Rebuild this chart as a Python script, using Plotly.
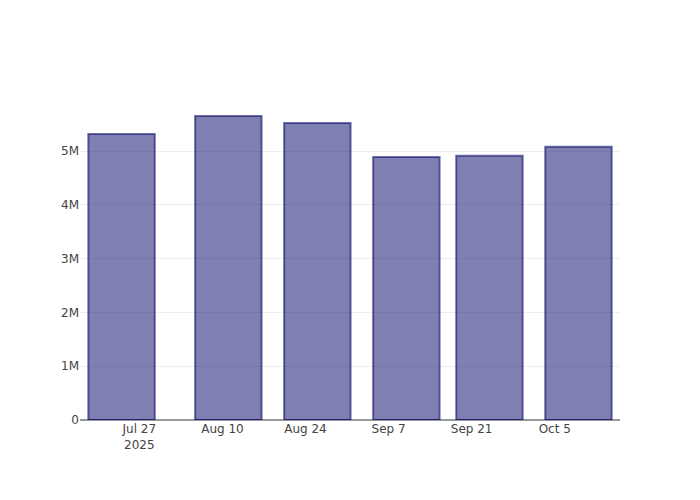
import plotly.graph_objects as go

dates = ["2025-07-24", "2025-08-11", "2025-08-26", "2025-09-10", "2025-09-24", "2025-10-09"]
values = [5.32e6, 5.655e6, 5.525e6, 4.89e6, 4.915e6, 5.085e6]

fig = go.Figure(go.Bar(
    x=dates, y=values,
    marker=dict(color="rgba(0,0,100,0.5)", line=dict(color="rgba(0,0,100,0.55)", width=2)),
))

fig.update_layout(
    width=700, height=500,
    template="none",
    font=dict(family="DejaVu Sans", size=12, color="#444"),
    margin=dict(l=72, r=88, t=92, b=88),
    plot_bgcolor="white", paper_bgcolor="white",
    showlegend=False,
    xaxis=dict(type="date", range=["2025-07-17", "2025-10-16"], showgrid=False,
               showline=False, zeroline=False,
               dtick=14 * 24 * 3600 * 1000, tick0="2025-07-27", ticks=""),
    yaxis=dict(showgrid=True, gridcolor="#eee", zeroline=True, zerolinecolor="#999",
               zerolinewidth=2, ticks="",
               tickvals=[0, 1e6, 2e6, 3e6, 4e6, 5e6], ticktext=["0", "1M", "2M", "3M", "4M", "5M"]),
)

fig.write_html("out.html")
